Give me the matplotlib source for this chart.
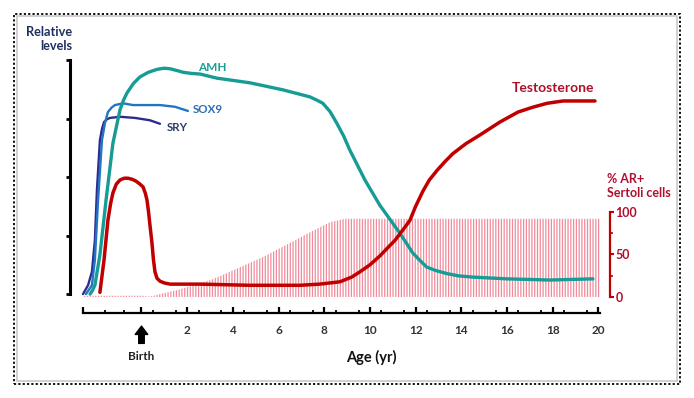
import numpy as np
import matplotlib
matplotlib.use('Agg')
import matplotlib.pyplot as plt
from matplotlib.patches import Rectangle
from matplotlib.ticker import FixedLocator

plt.rcParams['font.family'] = ['Lato', 'DejaVu Sans']
plt.rcParams['font.weight'] = 'bold'
plt.rcParams['hatch.linewidth'] = 0.9

# values: age in years (birth = 0), relative levels 0-4
sry_age = [-2.56, -2.34, -2.17, -2.04, -1.95, -1.82, -1.73, -1.64, -1.50, -1.38, -0.94,
           -0.28, 0.37, 0.81]
sry_lvl = [0.0, 0.15, 0.38, 0.92, 1.78, 2.63, 2.82, 2.94, 2.99, 3.01, 3.03,
           3.01, 2.97, 2.91]

sox9_age = [-2.43, -2.17, -2.04, -1.90, -1.73, -1.60, -1.47, -1.30, -1.16, -0.81, -0.37,
            0.15, 0.81, 1.47, 2.03]
sox9_lvl = [0.0, 0.15, 0.58, 1.61, 2.63, 2.92, 3.11, 3.19, 3.23, 3.26, 3.23,
            3.23, 3.23, 3.20, 3.13]

amh_age = [-2.25, -2.15, -2.04, -1.82, -1.55, -1.25, -0.94, -0.78, -0.63, -0.35, -0.07,
           0.30, 0.68, 1.00, 1.25, 1.55, 1.82, 2.20, 2.56, 3.30, 4.75, 6.19, 7.37,
           7.70, 7.94, 8.25, 8.55, 8.85, 9.12, 9.78, 10.43, 11.31, 11.88, 12.20, 12.49,
           12.90, 13.37, 13.90, 14.51, 16.0, 17.88, 19.76]
amh_lvl = [0.0, 0.06, 0.15, 0.67, 1.61, 2.58, 3.15, 3.32, 3.44, 3.60, 3.71,
           3.79, 3.84, 3.86, 3.85, 3.82, 3.79, 3.77, 3.76, 3.69, 3.61, 3.49, 3.37,
           3.31, 3.26, 3.12, 2.92, 2.70, 2.46, 1.95, 1.52, 1.04, 0.70, 0.57, 0.46,
           0.40, 0.35, 0.31, 0.29, 0.26, 0.24, 0.26]

testo_age = [-1.82, -1.64, -1.47, -1.35, -1.25, -1.10, -0.94, -0.75, -0.59, -0.40, -0.24,
             -0.07, 0.07, 0.17, 0.24, 0.31, 0.37, 0.46, 0.52, 0.59, 0.68, 0.81, 1.00,
             1.25, 2.56, 4.75, 6.94, 7.80, 8.69, 9.20, 9.56, 10.00, 10.43, 10.80, 11.10,
             11.45, 11.75, 12.00, 12.32, 12.60, 12.93, 13.30, 13.63, 14.20, 14.82, 15.69,
             16.48, 17.10, 17.75, 18.45, 19.85]
testo_lvl = [0.03, 0.58, 1.26, 1.55, 1.73, 1.88, 1.95, 1.98, 1.98, 1.96, 1.93,
             1.88, 1.83, 1.72, 1.61, 1.40, 1.18, 0.87, 0.60, 0.38, 0.27, 0.22, 0.19,
             0.17, 0.17, 0.15, 0.15, 0.17, 0.21, 0.29, 0.38, 0.50, 0.65, 0.80, 0.92,
             1.10, 1.26, 1.50, 1.76, 1.95, 2.11, 2.27, 2.40, 2.57, 2.72, 2.94,
             3.11, 3.19, 3.26, 3.30, 3.30]

# % AR+ Sertoli cells (right axis)
ar_age = [-2.56, 0.0, 0.37, 1.68, 3.13, 5.32, 7.37, 8.25, 8.91, 20.07]
ar_pct = [1.5, 1.5, 0.5, 9, 21, 47, 76, 88, 92, 92]

x_major = [-2.56, 0, 2, 4, 6, 8, 10, 12, 14, 16, 18, 20]
x_labels = ['', '', '2', '4', '6', '8', '10', '12', '14', '16', '18', '20']
x_minor = [-1.6, -0.77] + list(np.arange(0.5, 20, 1.0))

W, H = 694, 398
fig = plt.figure(figsize=(W / 100, H / 100), dpi=100)

# frame around the picture
fig.add_artist(Rectangle((17 / W, 1 - 381 / H), 660 / W, 365 / H, transform=fig.transFigure,
                         fill=False, edgecolor='#c8c8c8', linewidth=1.2))
fig.add_artist(Rectangle((14 / W, 1 - 384 / H), 666 / W, 370 / H, transform=fig.transFigure,
                         fill=False, edgecolor='black', linewidth=1.3, linestyle=(0, (1.2, 1.2))))

ax = fig.add_axes([83 / W, 101 / H, 517 / W, 237 / H])
ax2 = ax.twinx()
ax.set_zorder(ax2.get_zorder() + 1)
ax.patch.set_visible(False)

ax2.fill_between(ar_age, 0, ar_pct, facecolor='none', edgecolor='#f08b9a', hatch='||||||',
                 linewidth=0)

line_kw = dict(clip_on=False, solid_joinstyle='round', solid_capstyle='round')
ax.plot(sry_age, sry_lvl, color='#2c2c8e', lw=1.7, **line_kw)
ax.plot(sox9_age, sox9_lvl, color='#2274c4', lw=1.7, **line_kw)
ax.plot(amh_age, amh_lvl, color='#169c94', lw=2.4, **line_kw)
ax.plot(testo_age, testo_lvl, color='#c00000', lw=2.5, **line_kw)

ax.set_xlim(-2.56, 20.07)
ax.set_ylim(-0.05, 4)
ax2.set_ylim(0, 278.8)

for s in ['top', 'right']:
    ax.spines[s].set_visible(False)
for s in ['top', 'left', 'bottom']:
    ax2.spines[s].set_visible(False)

ax.spines['left'].set_position(('outward', 9.4))
ax.spines['left'].set_bounds(0, 4)
ax.spines['left'].set_linewidth(2.2)
ax.spines['bottom'].set_position(('outward', 11.5))
ax.spines['bottom'].set_bounds(-2.56, 20.07)
ax.spines['bottom'].set_linewidth(1.6)

ax.set_yticks([0, 1, 2, 3, 4])
ax.set_yticklabels([])
ax.tick_params(axis='y', direction='out', length=3, width=2)

ax.xaxis.set_major_locator(FixedLocator(x_major))
ax.xaxis.set_minor_locator(FixedLocator(x_minor))
ax.set_xticklabels(x_labels)
ax.tick_params(axis='x', which='major', direction='in', length=4.5, width=1.6, pad=9,
               labelsize=8.5, labelcolor='#333333')
ax.tick_params(axis='x', which='minor', direction='in', length=2.5, width=1.3)

red = '#c00000'
ax2.spines['right'].set_position(('outward', 7.2))
ax2.spines['right'].set_bounds(0, 100)
ax2.spines['right'].set_color(red)
ax2.spines['right'].set_linewidth(1.6)
ax2.set_yticks([0, 50, 100])
ax2.set_yticks([25, 75], minor=True)
ax2.tick_params(axis='y', which='major', direction='out', length=3, width=1.5, color=red,
                labelcolor='#b01030', labelsize=9, pad=1)
ax2.tick_params(axis='y', which='minor', direction='out', length=2, width=1.2, color=red)

# curve labels
ax.text(3.09, 3.88, 'AMH', color='#1a9e96', fontsize=8.5, ha='center', va='center')
ax.text(2.25, 3.15, 'SOX9', color='#2e6db4', fontsize=8.3, ha='left', va='center')
ax.text(1.12, 2.85, 'SRY', color='#2b3a6b', fontsize=8.3, ha='left', va='center')
ax.text(18.0, 3.52, 'Testosterone', color='#b0102a', fontsize=10, ha='center', va='center')

# birth marker and axis title
ax.annotate('', xy=(0, -0.50), xytext=(0, -0.89), xycoords='data', annotation_clip=False,
            arrowprops=dict(arrowstyle='simple,head_width=0.9,head_length=0.6,tail_width=0.4',
                            color='black'))
ax.text(0, -1.06, 'Birth', fontsize=8.5, ha='center', va='center', color='#222222',
        clip_on=False)
ax.text(10.04, -1.09, 'Age (yr)', fontsize=10.5, ha='center', va='center', color='#111111',
        clip_on=False)

fig.text(72 / W, 1 - 39 / H, 'Relative\nlevels', fontsize=9.2, ha='right', va='center',
         multialignment='right', color='#1f2f5f', linespacing=1.1)
fig.text(607 / W, 1 - 186 / H, '% AR+\nSertoli cells', fontsize=9, ha='left', va='center',
         color='#b01030', linespacing=1.25)

fig.savefig('out.png', dpi=100)
